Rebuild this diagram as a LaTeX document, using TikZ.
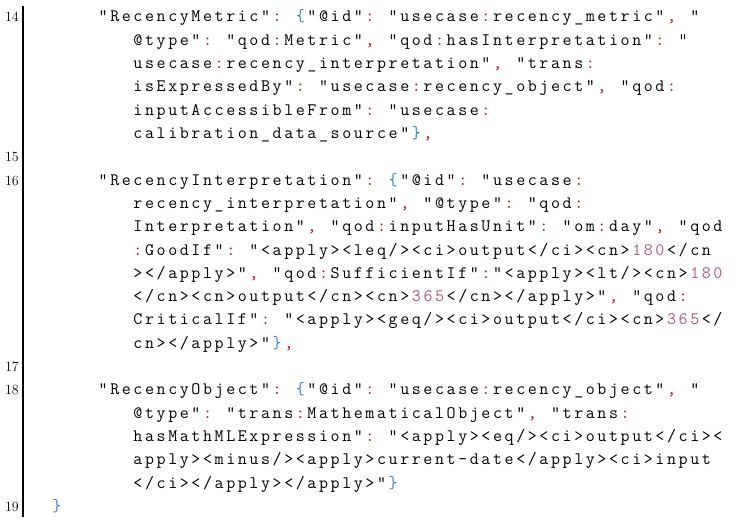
\documentclass[tikz,border=0pt]{standalone}
\usepackage{xcolor}
\definecolor{cr}{HTML}{B01010}
\definecolor{cb}{HTML}{2F7FD0}
\definecolor{cm}{HTML}{A85A80}
\newcommand\CO{{\color{cr}:}}
\newcommand\CM{{\color{cr},}}
\newcommand\LB{{\color{cb}\{}}
\newcommand\RB{{\color{cb}\}}}
\newcommand\Da{{\color{cm}1}}
\newcommand\Db{{\color{cm}8}}
\newcommand\Dc{{\color{cm}0}}
\newcommand\Dd{{\color{cm}3}}
\newcommand\De{{\color{cm}6}}
\newcommand\Df{{\color{cm}5}}
\newlength\pp \setlength\pp{11.6pt}
\let\stopc\relax
\def\chars#1{\ifx#1\stopc\else\makebox[\pp][c]{#1}\expandafter\chars\fi}
\tikzset{codeline/.style={anchor=base west,inner sep=0pt,font=\fontsize{17.5}{20}\selectfont\ttfamily},
lnum/.style={anchor=base east,inner sep=0pt,font=\fontsize{14}{16}\selectfont}}
\newcommand\CL[4]{\node[codeline] (#1) at ({4.4+#2*11.6},{22+#3*23.3}) {\chars #4\stopc};}
\newcommand\LN[3]{\node[lnum] (#1) at (19,{22+#2*23.3}) {#3};}
\begin{document}
\begin{tikzpicture}[x=1pt,y=-1pt]
\useasboundingbox (0,0) rectangle (736,527);
\draw[line width=1.1pt] (23,6) -- (23,517);
\LN{n14}{0}{14}
\LN{n15}{6}{15}
\LN{n16}{7}{16}
\LN{n17}{15}{17}
\LN{n18}{16}{18}
\LN{n19}{21}{19}
\CL{a0}{8}{0}{"RecencyMetric"\CO~\LB"@id"\CO~"usecase\CO recency\_metric"\CM~"}
\CL{a1}{11}{1}{@type"\CO~"qod\CO Metric"\CM~"qod\CO hasInterpretation"\CO~"}
\CL{a2}{11}{2}{usecase\CO recency\_interpretation"\CM~"trans\CO}
\CL{a3}{11}{3}{isExpressedBy"\CO~"usecase\CO recency\_object"\CM~"qod\CO}
\CL{a4}{11}{4}{inputAccessibleFrom"\CO~"usecase\CO}
\CL{a5}{11}{5}{calibration\_data\_source"\RB\CM}
\CL{b0}{8}{7}{"RecencyInterpretation"\CO~\LB"@id"\CO~"usecase\CO}
\CL{b1}{11}{8}{recency\_interpretation"\CM~"@type"\CO~"qod\CO}
\CL{b2}{11}{9}{Interpretation"\CM~"qod\CO inputHasUnit"\CO~"om\CO day"\CM~"qod}
\CL{b3}{11}{10}{\CO GoodIf"\CO~"<apply><leq/><ci>output</ci><cn>\Da\Db\Dc</cn}
\CL{b4}{11}{11}{></apply>"\CM~"qod\CO SufficientIf"\CO"<apply><lt/><cn>\Da\Db\Dc}
\CL{b5}{11}{12}{</cn><cn>output</cn><cn>\Dd\De\Df</cn></apply>"\CM~"qod\CO}
\CL{b6}{11}{13}{CriticalIf"\CO~"<apply><geq/><ci>output</ci><cn>\Dd\De\Df</}
\CL{b7}{11}{14}{cn></apply>"\RB\CM}
\CL{c0}{8}{16}{"RecencyObject"\CO~\LB"@id"\CO~"usecase\CO recency\_object"\CM~"}
\CL{c1}{11}{17}{@type"\CO~"trans\CO MathematicalObject"\CM~"trans\CO}
\CL{c2}{11}{18}{hasMathMLExpression"\CO~"<apply><eq/><ci>output</ci><}
\CL{c3}{11}{19}{apply><minus/><apply>current-date</apply><ci>input}
\CL{c4}{11}{20}{</ci></apply></apply>"\RB}
\CL{d0}{4}{21}{\RB}
\end{tikzpicture}
\end{document}
